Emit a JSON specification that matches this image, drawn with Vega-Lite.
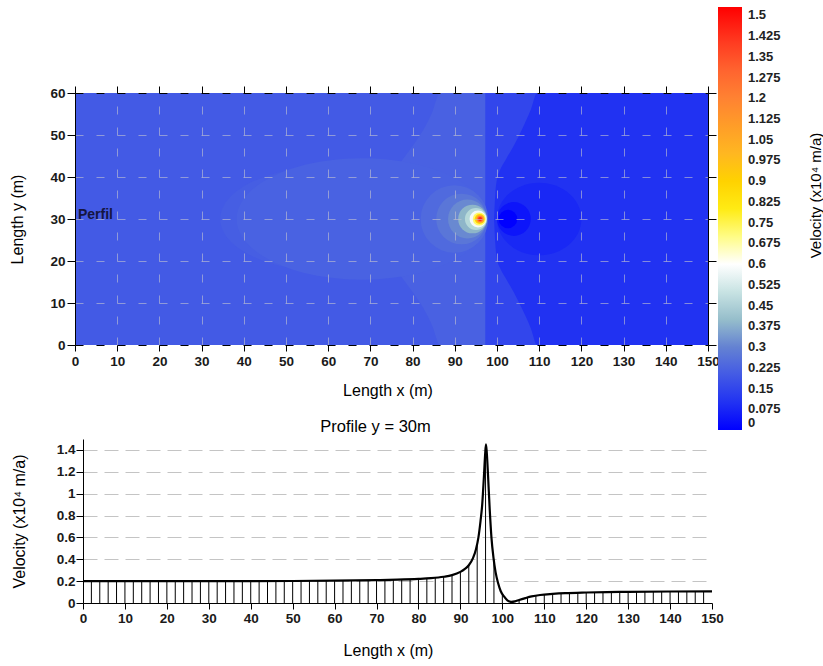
{
  "$schema": "https://vega.github.io/schema/vega-lite/v6.json",
  "background": "white",
  "padding": {"left": 9, "top": 7, "right": 0, "bottom": 0},
  "spacing": 19,
  "config": {
    "view": {"stroke": null},
    "font": "Liberation Sans",
    "axis": {
      "labelFont": "Liberation Sans", "labelFontWeight": "bold", "labelFontSize": 13.5, "labelColor": "#1a1a1a",
      "titleFont": "Liberation Sans", "titleFontWeight": "normal", "titleFontSize": 16, "titleColor": "#000000",
      "domainColor": "#000000", "tickColor": "#000000", "labelFlush": false, "labelOverlap": false
    },
    "legend": {"labelFont": "Liberation Sans"},
    "title": {"font": "Liberation Sans"}
  },
  "datasets": {
    "bands": [
      {"x": 0, "x2": 150, "y": 0, "y2": 60, "v": 0.2},
      {"x": 97.2, "x2": 150, "y": 0, "y2": 60, "v": 0.15}
    ],
    "zones": [
      {"region": "lobe", "x": 77, "y": 16.7, "y2": 43.3, "v": 0.218},
      {"region": "lobe", "x": 79, "y": 14, "y2": 46, "v": 0.218},
      {"region": "lobe", "x": 81, "y": 11.2, "y2": 48.8, "v": 0.218},
      {"region": "lobe", "x": 83, "y": 8, "y2": 52, "v": 0.218},
      {"region": "lobe", "x": 84.6, "y": 4.7, "y2": 55.3, "v": 0.218},
      {"region": "lobe", "x": 86.5, "y": 0, "y2": 60, "v": 0.218},
      {"region": "lobe", "x": 97.2, "y": 0, "y2": 60, "v": 0.218},
      {"region": "dark", "x": 99.3, "y": 30, "y2": 30, "v": 0.1},
      {"region": "dark", "x": 99.6, "y": 24, "y2": 36, "v": 0.1},
      {"region": "dark", "x": 100, "y": 20.5, "y2": 39.5, "v": 0.1},
      {"region": "dark", "x": 100.7, "y": 18.4, "y2": 41.6, "v": 0.1},
      {"region": "dark", "x": 102, "y": 16, "y2": 44, "v": 0.1},
      {"region": "dark", "x": 104, "y": 12.5, "y2": 47.5, "v": 0.1},
      {"region": "dark", "x": 106, "y": 8.5, "y2": 51.5, "v": 0.1},
      {"region": "dark", "x": 108, "y": 4, "y2": 56, "v": 0.1},
      {"region": "dark", "x": 109.5, "y": 0, "y2": 60, "v": 0.1},
      {"region": "dark", "x": 150, "y": 0, "y2": 60, "v": 0.1}
    ],
    "blobs": [
      {"x": 60, "y": 30, "d": 51.2, "form": "wide", "v": 0.21},
      {"x": 68, "y": 30, "d": 59.4, "form": "wide", "v": 0.22},
      {"x": 110, "y": 30, "d": 20, "form": "oval", "v": 0.075},
      {"x": 104, "y": 30, "d": 8, "form": "round", "v": 0.04},
      {"x": 102.6, "y": 30, "d": 4.4, "form": "round", "v": 0},
      {"x": 89.9, "y": 30, "d": 16, "form": "round", "v": 0.24},
      {"x": 91.6, "y": 30, "d": 12, "form": "round", "v": 0.27},
      {"x": 93, "y": 30, "d": 9.2, "form": "round", "v": 0.31},
      {"x": 94.2, "y": 30, "d": 6.8, "form": "round", "v": 0.38},
      {"x": 95, "y": 30, "d": 5.2, "form": "round", "v": 0.47},
      {"x": 95.5, "y": 30, "d": 4, "form": "round", "v": 0.58},
      {"x": 95.8, "y": 30, "d": 3.1, "form": "round", "v": 0.72},
      {"x": 95.9, "y": 30, "d": 2.4, "form": "round", "v": 0.88},
      {"x": 96, "y": 30, "d": 1.9, "form": "round", "v": 1.05},
      {"x": 96, "y": 30, "d": 1.4, "form": "round", "v": 1.25},
      {"x": 96, "y": 30, "d": 0.9, "form": "round", "v": 1.45}
    ],
    "labels": [{"x": 0, "y": 30, "label": "Perfil"}],
    "profile": [
      {"x": 0, "v": 0.2}, {"x": 5, "v": 0.2}, {"x": 10, "v": 0.2}, {"x": 20, "v": 0.2}, {"x": 30, "v": 0.2},
      {"x": 40, "v": 0.2}, {"x": 50, "v": 0.201}, {"x": 60, "v": 0.204}, {"x": 70, "v": 0.209}, {"x": 75, "v": 0.213},
      {"x": 80, "v": 0.22}, {"x": 83, "v": 0.227}, {"x": 86, "v": 0.24}, {"x": 88, "v": 0.255}, {"x": 90, "v": 0.285},
      {"x": 91, "v": 0.31}, {"x": 92, "v": 0.345}, {"x": 93, "v": 0.41}, {"x": 93.7, "v": 0.49}, {"x": 94.3, "v": 0.6},
      {"x": 94.8, "v": 0.75}, {"x": 95.2, "v": 0.9}, {"x": 95.6, "v": 1.15}, {"x": 95.9, "v": 1.36}, {"x": 96.1, "v": 1.45},
      {"x": 96.3, "v": 1.37}, {"x": 96.6, "v": 1.16}, {"x": 97, "v": 0.85}, {"x": 97.4, "v": 0.6}, {"x": 97.9, "v": 0.41},
      {"x": 98.4, "v": 0.28}, {"x": 99, "v": 0.18}, {"x": 99.6, "v": 0.11}, {"x": 100.4, "v": 0.06}, {"x": 101.2, "v": 0.025},
      {"x": 102.2, "v": 0.01}, {"x": 103, "v": 0.015}, {"x": 104, "v": 0.028}, {"x": 105.5, "v": 0.045}, {"x": 107, "v": 0.06},
      {"x": 109, "v": 0.073}, {"x": 112, "v": 0.083}, {"x": 115, "v": 0.09}, {"x": 120, "v": 0.096}, {"x": 125, "v": 0.1},
      {"x": 130, "v": 0.102}, {"x": 140, "v": 0.105}, {"x": 150, "v": 0.107}
    ],
    "bars": [
      {"x": 2, "v": 0.2}, {"x": 4, "v": 0.2}, {"x": 6, "v": 0.2}, {"x": 8, "v": 0.2}, {"x": 10, "v": 0.2},
      {"x": 12, "v": 0.2}, {"x": 14, "v": 0.2}, {"x": 16, "v": 0.2}, {"x": 18, "v": 0.2}, {"x": 20, "v": 0.2},
      {"x": 22, "v": 0.2}, {"x": 24, "v": 0.2}, {"x": 26, "v": 0.2}, {"x": 28, "v": 0.2}, {"x": 30, "v": 0.2},
      {"x": 32, "v": 0.2}, {"x": 34, "v": 0.2}, {"x": 36, "v": 0.2}, {"x": 38, "v": 0.2}, {"x": 40, "v": 0.2},
      {"x": 42, "v": 0.2}, {"x": 44, "v": 0.2}, {"x": 46, "v": 0.2}, {"x": 48, "v": 0.2}, {"x": 50, "v": 0.201},
      {"x": 52, "v": 0.202}, {"x": 54, "v": 0.202}, {"x": 56, "v": 0.203}, {"x": 58, "v": 0.203}, {"x": 60, "v": 0.204},
      {"x": 62, "v": 0.205}, {"x": 64, "v": 0.206}, {"x": 66, "v": 0.207}, {"x": 68, "v": 0.208}, {"x": 70, "v": 0.209},
      {"x": 72, "v": 0.211}, {"x": 74, "v": 0.212}, {"x": 76, "v": 0.215}, {"x": 78, "v": 0.217}, {"x": 80, "v": 0.22},
      {"x": 82, "v": 0.224}, {"x": 84, "v": 0.23}, {"x": 86, "v": 0.24}, {"x": 88, "v": 0.255}, {"x": 90, "v": 0.285},
      {"x": 92, "v": 0.345}, {"x": 94, "v": 0.54}, {"x": 96, "v": 1.42}, {"x": 98, "v": 0.38}, {"x": 100, "v": 0.08},
      {"x": 102, "v": 0.01}, {"x": 104, "v": 0.028}, {"x": 106, "v": 0.05}, {"x": 108, "v": 0.067}, {"x": 110, "v": 0.077},
      {"x": 112, "v": 0.083}, {"x": 114, "v": 0.088}, {"x": 116, "v": 0.091}, {"x": 118, "v": 0.094}, {"x": 120, "v": 0.096},
      {"x": 122, "v": 0.097}, {"x": 124, "v": 0.099}, {"x": 126, "v": 0.1}, {"x": 128, "v": 0.101}, {"x": 130, "v": 0.102},
      {"x": 132, "v": 0.103}, {"x": 134, "v": 0.103}, {"x": 136, "v": 0.104}, {"x": 138, "v": 0.104}, {"x": 140, "v": 0.105},
      {"x": 142, "v": 0.105}, {"x": 144, "v": 0.106}, {"x": 146, "v": 0.106}, {"x": 148, "v": 0.107}
    ]
  },
  "vconcat": [
    {
      "width": 633,
      "height": 252,
      "layer": [
        {
          "data": {"name": "bands"},
          "mark": {"type": "rect"},
          "encoding": {
            "x": {"field": "x", "type": "quantitative", "scale": {"domain": [0, 150], "nice": false, "zero": false},
              "axis": {"orient": "bottom", "values": [0,10,20,30,40,50,60,70,80,90,100,110,120,130,140,150], "tickCount": 16,
                "grid": true, "gridDash": [8, 13], "gridDashOffset": 8, "gridColor": "#C4C4D0", "gridOpacity": 0.6,
                "domainDash": [8, 13], "tickSize": 6, "labelPadding": 3, "title": "Length x (m)", "titlePadding": 15, "titleX": 312.5, "zindex": 1}},
            "x2": {"field": "x2"},
            "y": {"field": "y", "type": "quantitative", "scale": {"domain": [0, 60], "nice": false, "zero": false},
              "axis": {"orient": "left", "values": [0,10,20,30,40,50,60], "tickCount": 7,
                "grid": true, "gridDash": [8, 13], "gridColor": "#C4C4D0", "gridOpacity": 0.6,
                "tickSize": 8, "labelPadding": 2, "title": "Length y (m)", "titlePadding": 24, "zindex": 1}},
            "y2": {"field": "y2"},
            "color": {"field": "v", "type": "quantitative",
              "scale": {"type": "linear", "interpolate": "rgb",
                "domain": [0,0.075,0.15,0.225,0.3,0.375,0.45,0.525,0.6,0.675,0.75,0.825,0.9,0.975,1.05,1.125,1.2,1.275,1.35,1.425,1.53],
                "range": ["#0000FF","#1928F5","#3246EC","#4B64E1","#6482D2","#8CB4C8","#AAD2D2","#D7EBEB","#FFFFFF","#FFFFAA","#FFF53C","#FFE600","#FFD200","#FFBE1E","#FFAA28","#FF9628","#FF8232","#FF6E32","#FF5028","#FF321E","#FF0000"]},
              "legend": {"orient": "none", "legendX": 643, "legendY": -86, "direction": "vertical",
                "gradientLength": 423, "gradientThickness": 24, "title": null, "padding": 0,
                "values": [0,0.075,0.15,0.225,0.3,0.375,0.45,0.525,0.6,0.675,0.75,0.825,0.9,0.975,1.05,1.125,1.2,1.275,1.35,1.425,1.5],
                "format": ".4~g", "labelFontSize": 13, "labelFontWeight": "bold", "labelColor": "#222222",
                "labelOffset": 6, "labelOverlap": false, "gradientStrokeWidth": 0}}
          }
        },
        {
          "data": {"name": "zones"},
          "mark": {"type": "area", "interpolate": "monotone"},
          "encoding": {
            "x": {"field": "x", "type": "quantitative", "scale": {"domain": [0, 150], "nice": false, "zero": false}, "axis": null},
            "y": {"field": "y", "type": "quantitative", "scale": {"domain": [0, 60], "nice": false, "zero": false}, "axis": null},
            "y2": {"field": "y2"},
            "detail": {"field": "region"},
            "color": {"field": "v", "type": "quantitative", "legend": null,
              "scale": {"type": "linear", "interpolate": "rgb",
                "domain": [0,0.075,0.15,0.225,0.3,0.375,0.45,0.525,0.6,0.675,0.75,0.825,0.9,0.975,1.05,1.125,1.2,1.275,1.35,1.425,1.53],
                "range": ["#0000FF","#1928F5","#3246EC","#4B64E1","#6482D2","#8CB4C8","#AAD2D2","#D7EBEB","#FFFFFF","#FFFFAA","#FFF53C","#FFE600","#FFD200","#FFBE1E","#FFAA28","#FF9628","#FF8232","#FF6E32","#FF5028","#FF321E","#FF0000"]}}
          }
        },
        {
          "data": {"name": "blobs"},
          "mark": {"type": "point", "filled": true, "opacity": 1, "strokeWidth": 0},
          "encoding": {
            "x": {"field": "x", "type": "quantitative", "scale": {"domain": [0, 150], "nice": false, "zero": false}, "axis": null},
            "y": {"field": "y", "type": "quantitative", "scale": {"domain": [0, 60], "nice": false, "zero": false}, "axis": null},
            "size": {"field": "d", "type": "quantitative", "legend": null,
              "scale": {"type": "pow", "exponent": 2, "domain": [0, 80], "range": [0, 113977]}},
            "shape": {"field": "form", "type": "nominal", "legend": null,
              "scale": {"domain": ["round", "wide", "oval"],
                "range": ["circle", "M -1 0 A 1 0.484 0 1 1 1 0 A 1 0.484 0 1 1 -1 0 Z", "M -1 0 A 1 0.86 0 1 1 1 0 A 1 0.86 0 1 1 -1 0 Z"]}},
            "color": {"field": "v", "type": "quantitative", "legend": null,
              "scale": {"type": "linear", "interpolate": "rgb",
                "domain": [0,0.075,0.15,0.225,0.3,0.375,0.45,0.525,0.6,0.675,0.75,0.825,0.9,0.975,1.05,1.125,1.2,1.275,1.35,1.425,1.53],
                "range": ["#0000FF","#1928F5","#3246EC","#4B64E1","#6482D2","#8CB4C8","#AAD2D2","#D7EBEB","#FFFFFF","#FFFFAA","#FFF53C","#FFE600","#FFD200","#FFBE1E","#FFAA28","#FF9628","#FF8232","#FF6E32","#FF5028","#FF321E","#FF0000"]}}
          }
        },
        {
          "data": {"name": "labels"},
          "mark": {"type": "text", "align": "left", "baseline": "alphabetic", "dx": 3, "font": "Liberation Sans", "fontWeight": "bold", "fontSize": 14, "color": "#151540"},
          "encoding": {
            "x": {"field": "x", "type": "quantitative", "scale": {"domain": [0, 150], "nice": false, "zero": false},
              "axis": {"orient": "top", "values": [0,10,20,30,40,50,60,70,80,90,100,110,120,130,140,150],
                "labels": false, "grid": false, "tickSize": 7, "domainDash": [8, 13], "title": null, "zindex": 1}},
            "y": {"field": "y", "type": "quantitative", "scale": {"domain": [0, 60], "nice": false, "zero": false},
              "axis": {"orient": "right", "values": [0,10,20,30,40,50,60],
                "labels": false, "grid": false, "tickSize": 8, "title": "Velocity (x10⁴ m/a)", "titleFontSize": 15,
                "titleAngle": 270, "titleX": 107, "titleY": 102, "titleAlign": "center", "titleBaseline": "middle", "zindex": 1}},
            "text": {"field": "label"}
          }
        }
      ]
    },
    {
      "width": 637,
      "height": 164,
      "title": {"text": "Profile y = 30m", "fontSize": 16.5, "fontWeight": "normal", "font": "Liberation Sans", "color": "#000000", "anchor": "middle", "dx": -18, "offset": 4},
      "layer": [
        {
          "data": {"name": "bars"},
          "mark": {"type": "rule", "color": "#000000", "strokeWidth": 1},
          "encoding": {
            "x": {"field": "x", "type": "quantitative", "scale": {"domain": [0, 150], "range": [8, 637], "nice": false, "zero": false},
              "axis": {"values": [0,10,20,30,40,50,60,70,80,90,100,110,120,130,140,150], "tickCount": 16, "grid": false,
                "tickSize": 6, "labelPadding": 2, "title": "Length x (m)", "titlePadding": 18, "titleX": 313}},
            "y": {"field": "v", "type": "quantitative", "scale": {"domain": [0, 1.5], "nice": false, "zero": false},
              "axis": {"values": [0,0.2,0.4,0.6,0.8,1,1.2,1.4], "tickCount": 8, "format": ".2~g", "grid": true, "gridDash": [14, 7], "gridColor": "#C4C4C4",
                "offset": -8, "tickSize": 7, "labelPadding": 1, "title": "Velocity (x10⁴ m/a)", "titlePadding": 29}},
            "y2": {"datum": 0}
          }
        },
        {
          "data": {"name": "profile"},
          "mark": {"type": "line", "color": "#000000", "strokeWidth": 2.2, "interpolate": "monotone"},
          "encoding": {
            "x": {"field": "x", "type": "quantitative", "scale": {"domain": [0, 150], "range": [8, 637], "nice": false, "zero": false},
              "axis": {"values": [0,10,20,30,40,50,60,70,80,90,100,110,120,130,140,150], "tickCount": 16, "grid": false,
                "tickSize": 6, "labelPadding": 2, "title": "Length x (m)", "titlePadding": 18, "titleX": 313}},
            "y": {"field": "v", "type": "quantitative", "scale": {"domain": [0, 1.5], "nice": false, "zero": false},
              "axis": {"values": [0,0.2,0.4,0.6,0.8,1,1.2,1.4], "tickCount": 8, "format": ".2~g", "grid": true, "gridDash": [14, 7], "gridColor": "#C4C4C4",
                "offset": -8, "tickSize": 7, "labelPadding": 1, "title": "Velocity (x10⁴ m/a)", "titlePadding": 29}}
          }
        }
      ]
    }
  ]
}
